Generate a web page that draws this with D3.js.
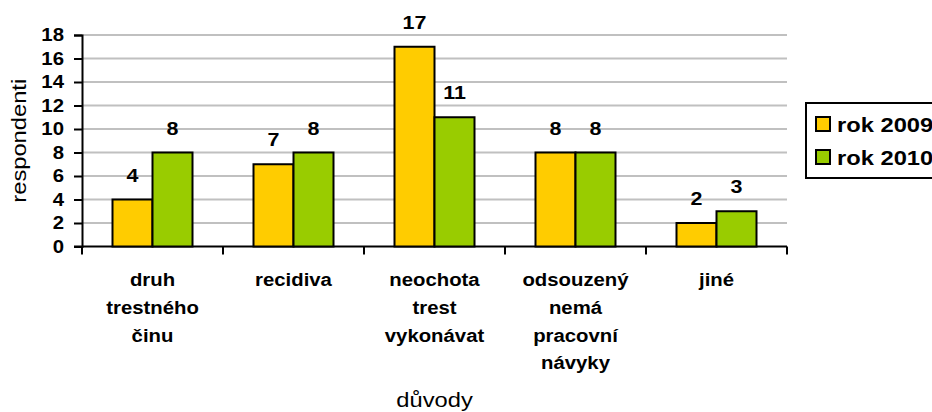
<!DOCTYPE html>
<html>
<head>
<meta charset="utf-8">
<script src="https://cdn.jsdelivr.net/npm/d3@7"></script>
<style>
    body { margin: 0; background: #fff; }
    svg { font-family: "Liberation Sans", Arial, sans-serif; }
</style>
</head>
<body>
<div id="chart"></div>
<script>
// Data
const categories = [
    ["druh", "trestného", "činu"],
    ["recidiva"],
    ["neochota", "trest", "vykonávat"],
    ["odsouzený", "nemá", "pracovní", "návyky"],
    ["jiné"]
];
const seriesNames = ["rok 2009", "rok 2010"];
const values2009 = [4, 7, 17, 8, 2];
const values2010 = [8, 8, 11, 8, 3];
const yTicks = [0, 2, 4, 6, 8, 10, 12, 14, 16, 18];
const colors = ["#ffcc00", "#99cc00"];

const width = 932;
const height = 412;
const stretch = 1.13; // the reference text is a bit wider than Arial

const svg = d3.select("#chart")
    .append("svg")
    .attr("width", width)
    .attr("height", height);

// Plot area
const plotLeft = 82, plotRight = 787, plotTop = 35, plotBottom = 246.5;

const x = d3.scaleBand()
    .domain(d3.range(categories.length))
    .range([plotLeft, plotRight])
    .paddingInner(0)
    .paddingOuter(0);

const y = d3.scaleLinear()
    .domain([0, 18])
    .range([plotBottom, plotTop]);

const groupWidth = x.bandwidth() * 80 / 141;
const x1 = d3.scaleBand()
    .domain([0, 1])
    .range([0, groupWidth]);

// Grid lines
svg.append("g")
    .selectAll("line")
    .data(yTicks.filter(d => d > 0))
    .enter()
    .append("line")
    .attr("x1", plotLeft)
    .attr("x2", plotRight)
    .attr("y1", d => y(d))
    .attr("y2", d => y(d))
    .attr("stroke", "#c0c0c0")
    .attr("stroke-width", 2);

// Y axis
const yAxis = svg.append("g")
    .attr("transform", `translate(${plotLeft},0)`)
    .call(d3.axisLeft(y).tickValues(yTicks).tickSize(8).tickPadding(8));
yAxis.select(".domain").attr("stroke", "#000").attr("stroke-width", 2);
yAxis.selectAll(".tick line").attr("stroke", "#000").attr("stroke-width", 2);
yAxis.selectAll(".tick text")
    .attr("font-size", 18)
    .attr("font-weight", "bold")
    .attr("fill", "#000")
    .attr("font-family", "Liberation Sans, Arial, sans-serif")
    .attr("transform", `scale(${stretch},1)`);

// X axis line and ticks at category boundaries
svg.append("line")
    .attr("x1", plotLeft - 8)
    .attr("x2", plotRight)
    .attr("y1", plotBottom)
    .attr("y2", plotBottom)
    .attr("stroke", "#000")
    .attr("stroke-width", 2);

svg.append("g")
    .selectAll("line")
    .data(d3.range(categories.length + 1))
    .enter()
    .append("line")
    .attr("x1", d => plotLeft + d * x.bandwidth())
    .attr("x2", d => plotLeft + d * x.bandwidth())
    .attr("y1", plotBottom)
    .attr("y2", plotBottom + 8)
    .attr("stroke", "#000")
    .attr("stroke-width", 2);

// Bars
const groups = svg.append("g")
    .selectAll("g")
    .data(categories.map((c, i) => [values2009[i], values2010[i]]))
    .enter()
    .append("g")
    .attr("transform", (d, i) => `translate(${x(i) + (x.bandwidth() - groupWidth) / 2},0)`);

groups.selectAll("rect")
    .data(d => d)
    .enter()
    .append("rect")
    .attr("x", (d, j) => x1(j))
    .attr("y", d => y(d))
    .attr("width", x1.bandwidth())
    .attr("height", d => plotBottom - y(d))
    .attr("fill", (d, j) => colors[j])
    .attr("stroke", "#000")
    .attr("stroke-width", 2);

groups.selectAll("text")
    .data(d => d)
    .enter()
    .append("text")
    .attr("transform", (d, j) => `translate(${x1(j) + x1.bandwidth() / 2},${y(d) - 18}) scale(${stretch},1)`)
    .attr("text-anchor", "middle")
    .attr("font-size", 19)
    .attr("font-weight", "bold")
    .text(d => d);

// Category labels
svg.append("g")
    .selectAll("text")
    .data(categories)
    .enter()
    .append("text")
    .attr("transform", (d, i) => `translate(${x(i) + x.bandwidth() / 2},286) scale(${stretch},1)`)
    .attr("text-anchor", "middle")
    .attr("font-size", 18)
    .attr("font-weight", "bold")
    .selectAll("tspan")
    .data(d => d)
    .enter()
    .append("tspan")
    .attr("x", 0)
    .attr("dy", (d, k) => k === 0 ? 0 : 27.8)
    .text(d => d);

// Axis titles
svg.append("text")
    .attr("transform", `translate(${(plotLeft + plotRight) / 2},407) scale(${stretch},1)`)
    .attr("text-anchor", "middle")
    .attr("font-size", 21)
    .text("důvody");

svg.append("text")
    .attr("transform", `translate(26,${(plotTop + plotBottom) / 2}) rotate(-90) scale(${stretch},1)`)
    .attr("text-anchor", "middle")
    .attr("font-size", 21)
    .text("respondenti");

// Legend
const legend = svg.append("g").attr("transform", "translate(806,103)");
legend.append("rect")
    .attr("x", 0)
    .attr("y", 0)
    .attr("width", 160)
    .attr("height", 75)
    .attr("fill", "#fff")
    .attr("stroke", "#000")
    .attr("stroke-width", 2);

const items = legend.selectAll(".item")
    .data(seriesNames)
    .enter()
    .append("g")
    .attr("transform", (d, i) => `translate(10,${21 + i * 33})`);

items.append("rect")
    .attr("width", 14)
    .attr("height", 14)
    .attr("y", -7)
    .attr("fill", (d, i) => colors[i])
    .attr("stroke", "#000")
    .attr("stroke-width", 2);

items.append("text")
    .attr("transform", `translate(21,8) scale(${stretch},1)`)
    .attr("font-size", 21)
    .attr("font-weight", "bold")
    .text(d => d);
</script>
</body>
</html>
